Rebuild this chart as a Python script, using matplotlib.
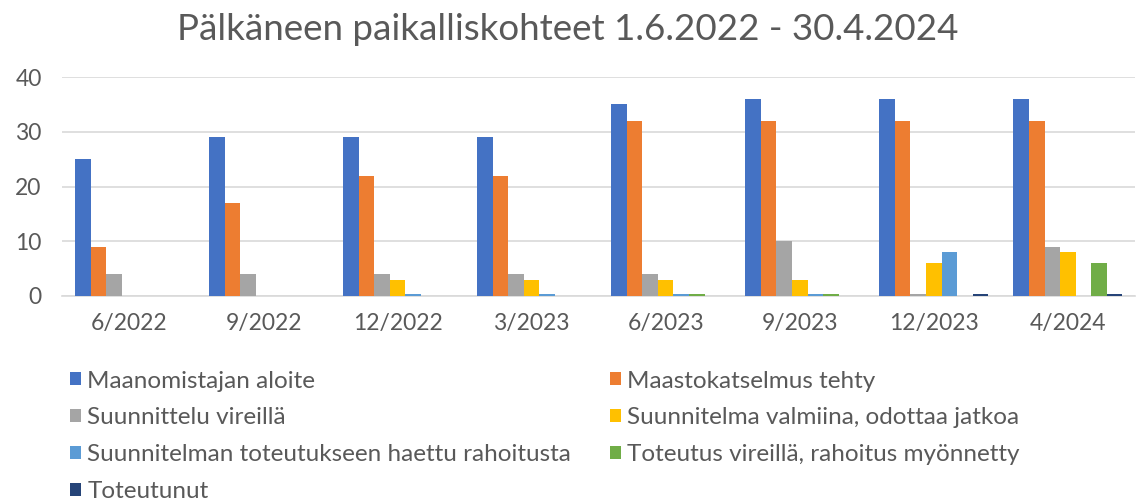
import numpy as np
import matplotlib
matplotlib.use("Agg")
import matplotlib.pyplot as plt

plt.rcParams["font.family"] = ["Lato", "DejaVu Sans"]

#### data
periods = ["6/2022", "9/2022", "12/2022", "3/2023", "6/2023", "9/2023", "12/2023", "4/2024"]
series_names = [
    "Maanomistajan aloite",
    "Maastokatselmus tehty",
    "Suunnittelu vireillä",
    "Suunnitelma valmiina, odottaa jatkoa",
    "Suunnitelman toteutukseen haettu rahoitusta",
    "Toteutus vireillä, rahoitus myönnetty",
    "Toteutunut",
]
aloite = [25, 29, 29, 29, 35, 36, 36, 36]
katselmus = [9, 17, 22, 22, 32, 32, 32, 32]
suunnittelu = [4, 4, 4, 4, 4, 10, 0.4, 9]
valmiina = [0, 0, 3, 3, 3, 3, 6, 8]
haettu = [0, 0, 0.4, 0.4, 0.4, 0.4, 8, 0]
myonnetty = [0, 0, 0, 0, 0.4, 0.4, 0, 6]
toteutunut = [0, 0, 0, 0, 0, 0, 0.4, 0.4]

colors = ["#4472C4", "#ED7D31", "#A5A5A5", "#FFC000", "#5B9BD5", "#70AD47", "#264478"]
all_series = [aloite, katselmus, suunnittelu, valmiina, haettu, myonnetty, toteutunut]

#### plotting
fig = plt.figure(figsize=(11.36, 5.0), dpi=100)
ax = fig.add_axes([0.055, 0.408, 0.944, 0.438])

x = np.arange(len(periods))
w = 0.116
handles = []
for i, (vals, col, name) in enumerate(zip(all_series, colors, series_names)):
    b = ax.bar(x + (i - 3) * w, vals, width=w, color=col, label=name, zorder=3)
    handles.append(b)

ax.set_ylim(0, 40)
ax.set_xlim(-0.5, len(periods) - 0.5)
ax.set_yticks([0, 10, 20, 30, 40])
ax.set_xticks(x)
ax.set_xticklabels(periods)
ax.grid(axis="y", color="#D9D9D9", linewidth=1.2, zorder=0)
for s in ["top", "right", "left"]:
    ax.spines[s].set_visible(False)
ax.spines["bottom"].set_color("#D9D9D9")
ax.spines["bottom"].set_linewidth(1.2)
ax.tick_params(axis="both", length=0, labelsize=16.5, colors="#595959")
ax.tick_params(axis="y", pad=15)
ax.tick_params(axis="x", pad=12)

fig.text(0.5, 0.94, "Pälkäneen paikalliskohteet 1.6.2022 - 30.4.2024",
         ha="center", va="center", fontsize=26.5, color="#595959")

## legend: row-wise order in two columns
order = [0, 2, 4, 6, 1, 3, 5]
leg = fig.legend([handles[i] for i in order], [series_names[i] for i in order],
                 ncol=2, loc="upper left", bbox_to_anchor=(0.062, 0.259),
                 frameon=False, fontsize=17.5, handlelength=0.45, handleheight=0.45,
                 handletextpad=0.25, columnspacing=1.6, labelspacing=0.65,
                 borderpad=0, borderaxespad=0)
for t in leg.get_texts():
    t.set_color("#595959")

plt.savefig("out.png", dpi=100)
